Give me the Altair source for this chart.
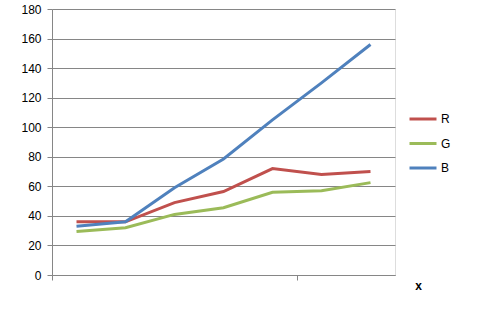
import altair as alt
import pandas as pd

positions = [0.5, 1.5, 2.5, 3.5, 4.5, 5.5, 6.5]
series_names = ["R", "G", "B"]
r_values = [36, 36, 49, 56.5, 72, 68, 70]
g_values = [29.5, 32, 41, 45.5, 56, 57, 62.5]
b_values = [33, 36, 59, 78.5, 105, 130, 156]
y_ticks = [0, 20, 40, 60, 80, 100, 120, 140, 160, 180]
colors = ["#C0504D", "#9BBB59", "#4F81BD"]

rows = []
for name, vals in zip(series_names, [r_values, g_values, b_values]):
    for p, v in zip(positions, vals):
        rows.append({"pos": p, "value": v, "series": name})
df = pd.DataFrame(rows)

FONT = "Liberation Sans"

chart = alt.Chart(df).mark_line(strokeWidth=3).encode(
    x=alt.X("pos:Q",
            scale=alt.Scale(domain=[0, 7], nice=False, zero=False),
            axis=alt.Axis(values=[0, 5], labels=False, grid=False,
                          tickSize=5, tickColor="#868686", domainColor="#868686",
                          title="x", titleFont=FONT, titleFontSize=12,
                          titleFontWeight="bold", titleColor="#000000",
                          titleX=366, titleY=10, titleAlign="center",
                          titleBaseline="middle")),
    y=alt.Y("value:Q",
            scale=alt.Scale(domain=[0, 180], nice=False),
            axis=alt.Axis(values=y_ticks, title=None, grid=True,
                          gridColor="#868686", gridWidth=1,
                          tickSize=5, tickColor="#868686", domainColor="#868686",
                          labelFont=FONT, labelFontSize=12, labelColor="#000000",
                          labelPadding=6)),
    color=alt.Color("series:N",
                    scale=alt.Scale(domain=series_names, range=colors),
                    legend=alt.Legend(title=None, orient="none",
                                      legendX=356, legendY=95,
                                      symbolType="stroke", symbolSize=729,
                                      symbolStrokeWidth=3, labelFont=FONT,
                                      labelFontSize=12, labelColor="#000000",
                                      labelOffset=3, rowPadding=3.5)),
    order=alt.Order("pos:Q"),
).properties(
    width=343, height=266,
    autosize=alt.AutoSizeParams(type="none"),
    padding={"left": 52, "top": 9, "right": 82, "bottom": 38},
).configure_view(stroke=None).configure(background="#ffffff")

chart.save("out.html", embed_options={"renderer": "svg", "actions": False})
